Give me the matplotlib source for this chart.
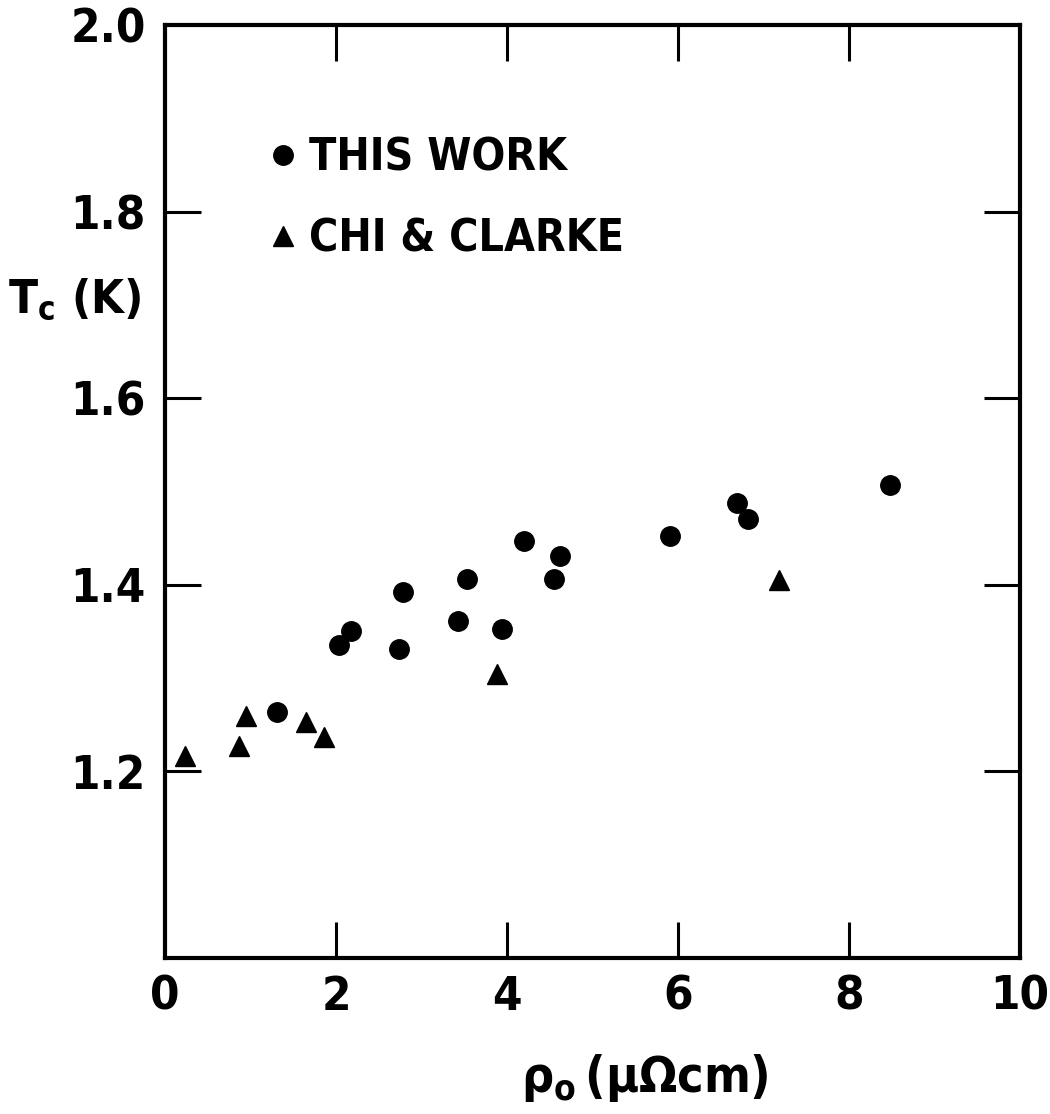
import matplotlib
matplotlib.use("Agg")
from matplotlib import pyplot as plt

# this work (circles)
rho_this = [1.31, 2.04, 2.18, 2.78, 2.74, 3.43, 3.53, 3.94, 4.20, 4.55, 4.62, 5.91, 6.69, 6.82, 8.48]
tc_this = [1.264, 1.335, 1.351, 1.392, 1.331, 1.361, 1.406, 1.353, 1.447, 1.406, 1.431, 1.452, 1.488, 1.470, 1.507]

# Chi & Clarke (triangles)
rho_chi = [0.23, 0.86, 0.95, 1.65, 1.86, 3.88, 7.18]
tc_chi = [1.216, 1.227, 1.259, 1.253, 1.237, 1.304, 1.405]

xticks = [0, 2, 4, 6, 8, 10]
yticks = [1.2, 1.4, 1.6, 1.8, 2.0]

plt.rcParams['font.family'] = ['DejaVu Sans']
plt.rcParams['font.stretch'] = 'condensed'
plt.rcParams['font.weight'] = 'bold'
plt.rcParams['mathtext.fontset'] = 'dejavusans'
plt.rcParams['mathtext.default'] = 'bf'

fig = plt.figure(figsize=(10.5, 11.14), dpi=100)
ax = fig.add_axes([165/1050, 1 - 958/1114, 855/1050, 933/1114])

ax.plot(rho_this, tc_this, 'o', color='black', markersize=14, label='THIS WORK')
ax.plot(rho_chi, tc_chi, '^', color='black', markersize=15, label='CHI & CLARKE')

ax.set_xlim(0, 10)
ax.set_ylim(1.0, 2.0)
ax.set_xticks(xticks)
ax.set_xticklabels([str(t) for t in xticks])
ax.set_yticks(yticks)
ax.set_yticklabels(['%.1f' % t for t in yticks])

for s in ax.spines.values():
    s.set_linewidth(3)

ax.tick_params(direction='in', length=26, width=2.2, labelsize=34, pad=12,
               top=True, right=True)
ax.tick_params(axis='y', pad=14)
# no tick marks at the ends
for t in ax.xaxis.get_major_ticks():
    if t.get_loc() in (0, 10):
        t.tick1line.set_visible(False)
        t.tick2line.set_visible(False)
for t in ax.yaxis.get_major_ticks():
    if t.get_loc() == 2.0:
        t.tick1line.set_visible(False)
        t.tick2line.set_visible(False)

ax.legend(loc='upper left', bbox_to_anchor=(0.122, 0.88), frameon=False,
          fontsize=32, handlelength=0.6, handletextpad=0.3, labelspacing=0.85,
          borderpad=0, borderaxespad=0, markerscale=1.0)

fig.text(75/1050, 1 - 300/1114, r'T$_c$ (K)', ha='center', va='center',
         fontsize=34, fontweight='bold')
fig.text(645/1050, 1 - 1078/1114, r'$\rho_{\rm o}\,(\mu\Omega{\rm cm})$',
         ha='center', va='center', fontsize=36)

fig.savefig('out.png', dpi=100)
